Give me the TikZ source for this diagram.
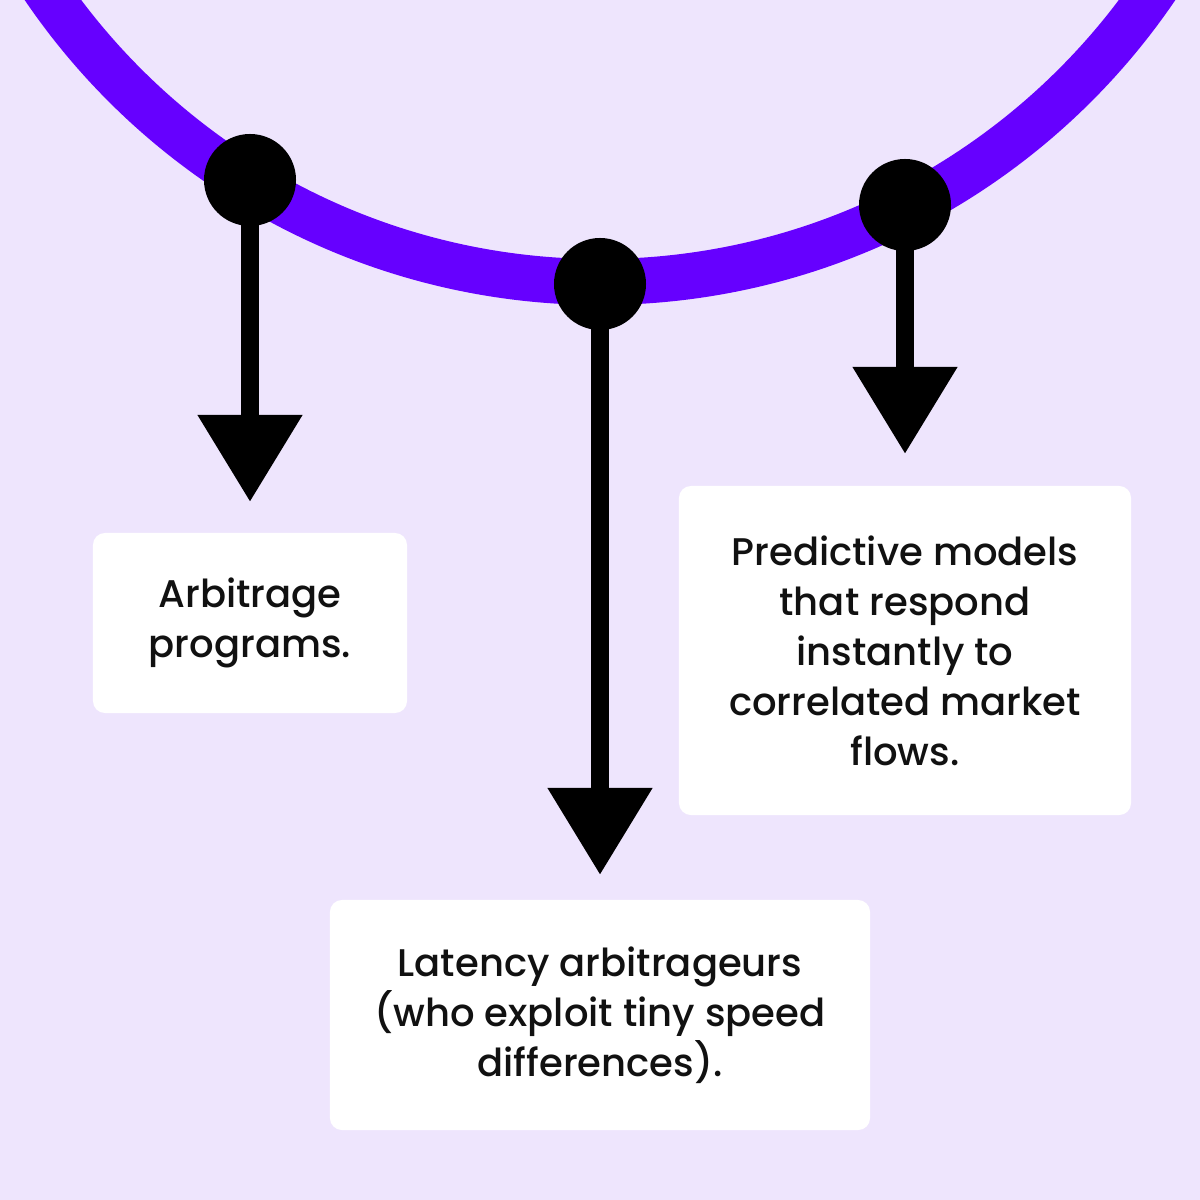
\documentclass[tikz,border=0pt]{standalone}
\usepackage{fontspec}
\setmainfont{Poppins}[UprightFont=* Medium]
\usetikzlibrary{arrows.meta}
\definecolor{bgc}{HTML}{EEE5FD}
\definecolor{arcc}{HTML}{6600FF}
\definecolor{txtc}{HTML}{111111}
\tikzset{
  dotnode/.style={circle, fill=black, inner sep=0pt, minimum size=2.3cm},
  stemarrow/.style={line width=0.45cm, -{Triangle[width=2.5cm, length=2.175cm]}},
  textbox/.style={fill=white, rounded corners=0.3cm, align=center, text=txtc, inner sep=0pt,
    font=\fontsize{27.4pt}{35.6pt}\selectfont},
}
\begin{document}
\begin{tikzpicture}[x=0.025cm, y=-0.025cm]
  \useasboundingbox (0,0) rectangle (1200,1200);
  \fill[bgc] (0,0) rectangle (1200,1200);
  \begin{scope}
    \clip (0,0) rectangle (1200,1200);
    \draw[arcc, line width=1.15cm] (600,-390) circle[radius=672];
  \end{scope}
  \node[dotnode] (d1) at (250,180) {};
  \node[dotnode] (d2) at (600,284) {};
  \node[dotnode] (d3) at (905,205) {};
  \coordinate (t1) at (250,502);
  \coordinate (t2) at (600,875);
  \coordinate (t3) at (905,454);
  \draw[stemarrow] (d1.center) -- (t1);
  \draw[stemarrow] (d2.center) -- (t2);
  \draw[stemarrow] (d3.center) -- (t3);
  \node[textbox, minimum width=7.85cm, minimum height=4.5cm] (b1) at (250,623)
    {Arbitrage\\programs.};
  \node[textbox, minimum width=13.5cm, minimum height=5.75cm] (b2) at (600,1015)
    {Latency arbitrageurs\\(who exploit tiny speed\\differences).};
  \node[textbox, minimum width=11.3cm, minimum height=8.225cm] (b3) at (905,650.5)
    {Predictive models\\that respond\\instantly to\\correlated market\\flows.};
\end{tikzpicture}
\end{document}
